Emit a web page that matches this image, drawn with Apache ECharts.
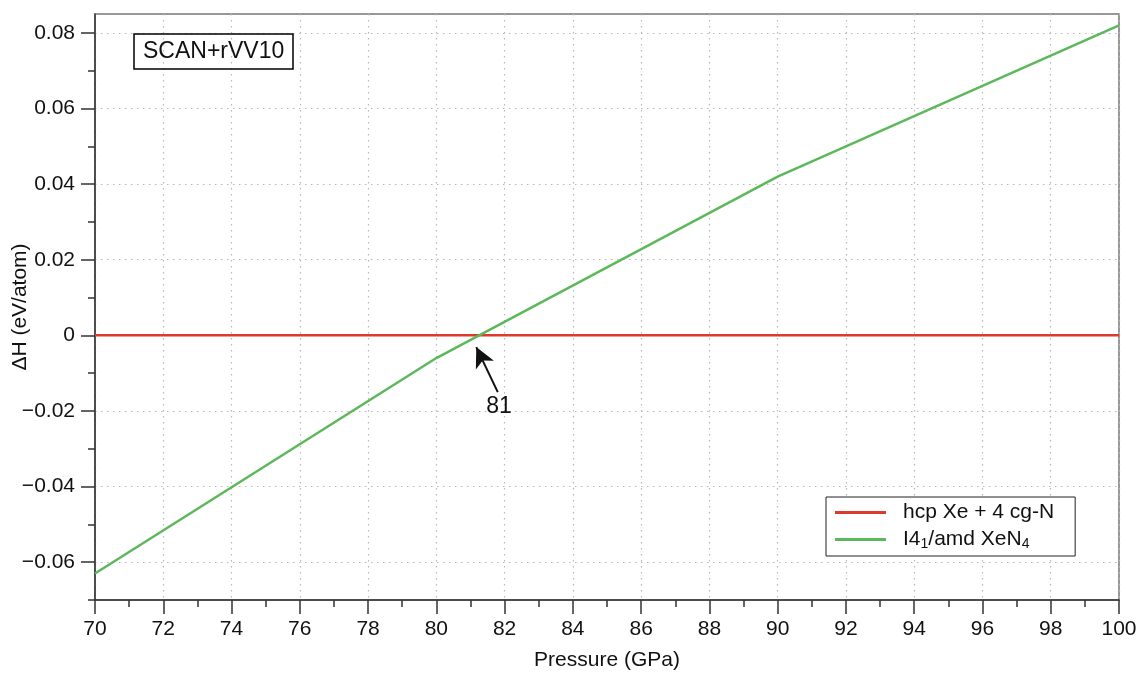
<!DOCTYPE html>
<html>
<head>
<meta charset="utf-8">
<script src="https://cdn.jsdelivr.net/npm/echarts@6/dist/echarts.min.js"></script>
<style>html,body{margin:0;padding:0;background:#fff}#c{width:1143px;height:673px}</style>
</head>
<body>
<div id="c"></div>
<script>
var pressure = [70, 80, 90, 100];
var refValues = [0, 0, 0, 0];
var xeN4Values = [-0.063, -0.006, 0.042, 0.082];
var seriesNames = ['hcp Xe + 4 cg-N', 'I4₁/amd XeN₄'];
var yMajorTicks = [-0.06, -0.04, -0.02, 0, 0.02, 0.04, 0.06, 0.08];
var yMinorTicks = [-0.07, -0.05, -0.03, -0.01, 0.01, 0.03, 0.05, 0.07];
var crossing = 81.17;
var crossLabel = '81';

var FONT = 'Liberation Sans, Arial, Helvetica, sans-serif';
function pairs(xs, ys){ return xs.map(function(x,i){return [x, ys[i]];}); }
function fmtY(v){
  var s = Math.abs(v) < 1e-9 ? '0' : (+v).toFixed(2);
  return s.replace('-', '\u2212');
}
var AX = '#333';
var GRID = { color: '#b8b8b8', type: [1.5, 4.5], width: 1.2 };

var chart = echarts.init(document.getElementById('c'));
chart.setOption({
  animation: false,
  backgroundColor: '#fff',
  grid: { left: 95, right: 24, top: 14, bottom: 73, containLabel: false, outerBoundsMode: 'none',
    show: true, borderColor: '#777', borderWidth: 1.5, backgroundColor: 'transparent' },
  title: {
    text: 'SCAN+rVV10', left: 134, top: 34, padding: [6, 9, 6, 9],
    borderColor: '#000', borderWidth: 1.5,
    textStyle: { fontFamily: FONT, fontSize: 23, fontWeight: 'normal', color: '#111' }
  },
  legend: {
    left: 826, top: 497, orient: 'vertical', padding: [5, 21, 5, 9], itemGap: 6,
    borderColor: '#222', borderWidth: 1, backgroundColor: '#fff',
    icon: 'rect', itemWidth: 51, itemHeight: 3,
    textStyle: { fontFamily: FONT, fontSize: 21, color: '#111', padding: [0, 0, 0, 12],
      rich: { sub: { fontFamily: FONT, fontSize: 14, verticalAlign: 'bottom', padding: [9, 0, 0, 0], color: '#111' },
              n: { fontFamily: FONT, fontSize: 21, color: '#111' } } },
    formatter: function(name){
      if (name === seriesNames[1]) return '{n|I4}{sub|1}{n|/amd XeN}{sub|4}';
      return name;
    },
    data: seriesNames
  },
  xAxis: {
    type: 'value', min: 70, max: 100, interval: 2,
    name: 'Pressure (GPa)', nameLocation: 'middle', nameGap: 50, nameMoveOverlap: false,
    nameTextStyle: { fontFamily: FONT, fontSize: 21, color: '#111' },
    axisLine: { onZero: false, lineStyle: { color: AX, width: 1.5 } },
    axisTick: { length: 14, lineStyle: { color: AX, width: 1.5 } },
    minorTick: { show: true, splitNumber: 2, length: 7, lineStyle: { color: AX, width: 1.5 } },
    axisLabel: { fontFamily: FONT, fontSize: 21, color: '#111', margin: 19 },
    splitLine: { show: true, lineStyle: GRID }
  },
  yAxis: [{
    type: 'value', min: -0.07, max: 0.085,
    name: 'ΔH (eV/atom)', nameLocation: 'middle', nameGap: 64, nameMoveOverlap: false,
    nameTextStyle: { fontFamily: FONT, fontSize: 21, color: '#111' },
    axisLine: { show: true, onZero: false, lineStyle: { color: AX, width: 1.5 } },
    axisTick: { show: true, length: 14, customValues: yMajorTicks, lineStyle: { color: AX, width: 1.5 } },
    axisLabel: { fontFamily: FONT, fontSize: 21, color: '#111', margin: 20, customValues: yMajorTicks, formatter: fmtY },
    splitLine: { show: true, lineStyle: GRID }
  }, {
    type: 'value', min: -0.07, max: 0.085, position: 'left', offset: 0,
    axisLine: { show: false, onZero: false },
    axisTick: { show: true, length: 7, customValues: yMinorTicks, lineStyle: { color: AX, width: 1.5 } },
    axisLabel: { show: false },
    splitLine: { show: false }
  }],
  series: [{
    name: seriesNames[0], type: 'line', data: pairs(pressure, refValues),
    showSymbol: false, symbol: 'none', lineStyle: { color: '#dd3a2c', width: 2.5 }, itemStyle: { color: '#dd3a2c' }, z: 3
  }, {
    name: seriesNames[1], type: 'line', data: pairs(pressure, xeN4Values),
    showSymbol: false, symbol: 'none', lineStyle: { color: '#5cb85a', width: 2.5 }, itemStyle: { color: '#5cb85a' }, z: 4,
    markLine: {
      silent: true, symbol: ['none', 'arrow'], symbolSize: [15, 20],
      lineStyle: { color: '#111', width: 2, type: 'solid' },
      label: { show: true, position: 'start', formatter: crossLabel, fontFamily: FONT, fontSize: 23, color: '#111', distance: 3 },
      data: [[{ coord: [81.80, -0.0150] }, { coord: [crossing, -0.0031] }]]
    }
  }]
});
</script>
</body>
</html>
